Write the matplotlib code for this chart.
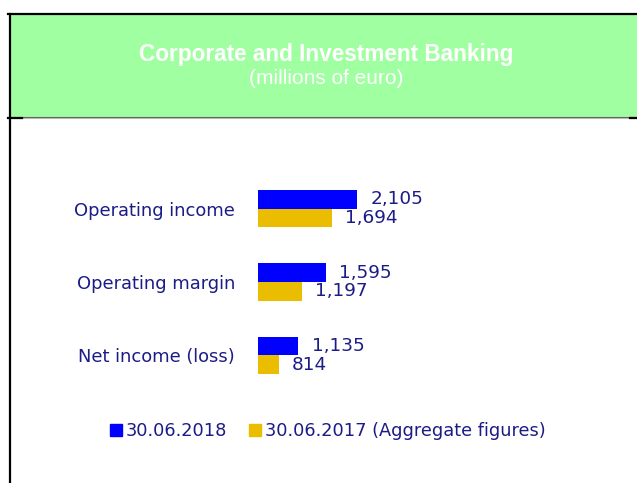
import matplotlib
matplotlib.use("Agg")
import matplotlib.pyplot as plt
from matplotlib.patches import Rectangle
from matplotlib.lines import Line2D

# 数据
categories = ["Operating income", "Operating margin", "Net income (loss)"]
values_2018 = [2105, 1595, 1135]
values_2017 = [1694, 1197, 814]
series_labels = ["30.06.2018", "30.06.2017 (Aggregate figures)"]
title = "Corporate and Investment Banking"
subtitle = "(millions of euro)"

W, H = 637, 483
BLUE = "#0000ff"
GOLD = "#ebbd00"
NAVY = "#1c1c86"
GREEN = "#a0ffa0"

fig = plt.figure(figsize=(W / 100, H / 100), dpi=100)
fig.patch.set_facecolor("white")


def fig_line(x1, x2, y1, y2, color, lw):
    # ピクセル座標で線を引く
    fig.lines.append(Line2D([x1 / W, x2 / W], [1 - y1 / H, 1 - y2 / H],
                            transform=fig.transFigure, color=color, lw=lw))


# ヘッダー
fig.patches.append(Rectangle((10 / W, 1 - 117 / H), 1 - 10 / W, 102 / H,
                             transform=fig.transFigure, facecolor=GREEN,
                             edgecolor="none", zorder=0))
fig_line(8, W, 14, 14, "black", 1.6)
fig_line(9.5, 9.5, 14, H, "black", 1.6)
fig_line(8, W, 117, 117, "#606060", 0.8)
fig_line(8, W, 118.2, 118.2, "#b8b8b8", 0.8)
fig_line(8, 22, 117.5, 117.5, "black", 1.6)
fig_line(630, W, 117.5, 117.5, "black", 1.6)
fig.text(326 / W, 1 - 54 / H, title, ha="center", va="center", color="white",
         fontsize=16.3, fontweight="bold", family="Liberation Sans")
fig.text(326 / W, 1 - 78 / H, subtitle, ha="center", va="center", color="white",
         fontsize=15, family="Liberation Sans")

# 棒グラフ
ax_left, ax_right = 258, 630
top, bottom = 172, 392
ax = fig.add_axes([ax_left / W, 1 - bottom / H, (ax_right - ax_left) / W, (bottom - top) / H])
px_per_unit = 0.0607
x0 = 468
ax.set_xlim(x0, x0 + (ax_right - ax_left) / px_per_unit)

pos = list(range(len(categories)))
h = 0.255
ax.barh([p - h / 2 for p in pos], values_2018, height=h, color=BLUE)
ax.barh([p + h / 2 for p in pos], values_2017, height=h, color=GOLD)
ax.set_ylim(2.5, -0.5)

for p, v in zip(pos, values_2018):
    ax.text(v + 215, p - h / 2, f"{v:,}", va="center", ha="left", color=NAVY, fontsize=13.3)
for p, v in zip(pos, values_2017):
    ax.text(v + 215, p + h / 2, f"{v:,}", va="center", ha="left", color=NAVY, fontsize=13.3)

ax.set_yticks(pos)
ax.set_yticklabels(categories, color=NAVY, fontsize=12.9)
ax.tick_params(axis="y", length=0, pad=16.5)
ax.set_xticks([])
for s in ax.spines.values():
    s.set_visible(False)
ax.patch.set_alpha(0)

# 凡例
handles = [Line2D([], [], marker="s", ls="none", color=BLUE, markersize=8.5),
           Line2D([], [], marker="s", ls="none", color=GOLD, markersize=8.5)]
leg = fig.legend(handles, series_labels, loc="center", bbox_to_anchor=(328 / W, 1 - 431 / H),
                 ncol=2, frameon=False, fontsize=12.8, handlelength=0.6, handletextpad=0.25,
                 columnspacing=1.3)
for t in leg.get_texts():
    t.set_color(NAVY)

fig.savefig("out.png", dpi=100)
